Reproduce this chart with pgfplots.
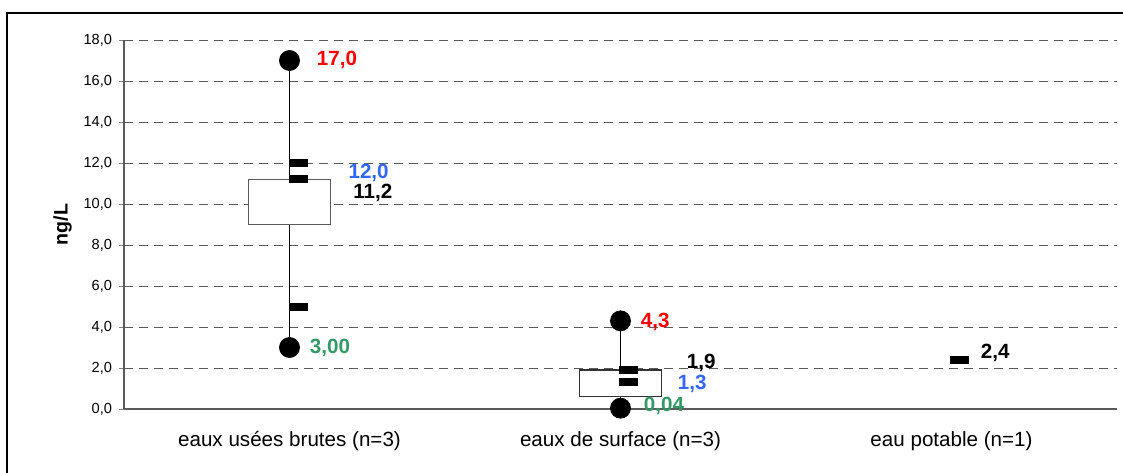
\documentclass[border=0pt]{standalone}
\usepackage{pgfplots}
\pgfplotsset{compat=1.18}
\usepackage{fontspec}
\setmainfont{Liberation Sans}
\definecolor{vred}{RGB}{255,0,0}
\definecolor{vblue}{RGB}{51,102,255}
\definecolor{vgreen}{RGB}{51,153,102}
\definecolor{axgray}{RGB}{90,90,90}
\pgfdeclareplotmark{dash}{\pgfpathrectangle{\pgfpoint{-4.6pt}{-2pt}}{\pgfpoint{9.2pt}{4pt}}\pgfusepathqfill}
\begin{document}
\begin{tikzpicture}
\useasboundingbox (0,0) rectangle (561.5pt,236pt);
\begin{axis}[
  at={(62pt,31.5pt)}, anchor=south west,
  scale only axis, width=496.5pt, height=184.5pt,
  xmin=0, xmax=3, ymin=0, ymax=18,
  axis lines=left, axis line style={-, draw=axgray, line width=0.8pt},
  xtick={0.5,1.5,2.5},
  xticklabels={eaux usées brutes (n=3), eaux de surface (n=3), eau potable (n=1)},
  x tick label style={font=\fontsize{10.3}{12}\selectfont, yshift=-5pt},
  major x tick style={draw=none},
  extra x ticks={1,2,3}, extra x tick labels={},
  extra x tick style={major tick length=3pt, tick align=outside, major tick style={draw=axgray, line width=0.8pt}},
  ytick={0,2,...,18},
  y tick label style={font=\fontsize{7.3}{8}\selectfont},
  yticklabel style={/pgf/number format/.cd, fixed, fixed zerofill, precision=1, use comma, assume math mode=true},
  tick align=outside, major tick length=2.5pt,
  ymajorgrids, grid style={dash pattern=on 4.5pt off 3pt, draw=axgray, line width=0.5pt},
  ylabel={\bfseries ng/L}, ylabel style={font=\fontsize{9.8}{11}\selectfont, yshift=-1pt},
  clip=false,
]
% whiskers
\addplot[black, line width=0.6pt] coordinates {(0.5,3.0) (0.5,17.0)};
\addplot[black, line width=0.6pt] coordinates {(1.5,0.04) (1.5,4.3)};
% boxes
\addplot[draw=axgray, fill=white, line width=0.6pt] coordinates {(0.376,9.0) (0.624,9.0) (0.624,11.2) (0.376,11.2) (0.376,9.0)};
\addplot[draw=black!80, fill=white, line width=0.6pt] coordinates {(1.376,0.6) (1.624,0.6) (1.624,1.9) (1.376,1.9) (1.376,0.6)};
% max / min
\addplot[only marks, mark=*, mark size=5pt, black] coordinates {(0.5,17.0) (0.5,3.0) (1.5,4.3) (1.5,0.04)};
% dashes
\addplot[only marks, mark=dash, black] coordinates {(0.527,12.0) (0.527,11.2) (0.527,5.0) (1.524,1.9) (1.524,1.3) (2.524,2.4)};
% value labels
\begin{scope}[font=\fontsize{10.3}{12}\selectfont\bfseries]
\node[anchor=west, text=vred, inner sep=0pt] at (axis cs:0.5816,17.05) {17,0};
\node[anchor=west, text=vblue, inner sep=0pt] at (axis cs:0.6772,11.5) {12,0};
\node[anchor=west, text=black, inner sep=0pt] at (axis cs:0.6918,10.55) {11,2};
\node[anchor=west, text=vgreen, inner sep=0pt] at (axis cs:0.5604,2.98) {3,00};
\node[anchor=west, text=vred, inner sep=0pt] at (axis cs:1.5604,4.24) {4,3};
\node[anchor=west, text=black, inner sep=0pt] at (axis cs:1.6994,2.24) {1,9};
\node[anchor=west, text=vblue, inner sep=0pt] at (axis cs:1.6722,1.22) {1,3};
\node[anchor=west, text=vgreen, inner sep=0pt] at (axis cs:1.5695,0.15) {0,04};
\node[anchor=west, text=black, inner sep=0pt] at (axis cs:2.5876,2.73) {2,4};
\end{scope}
\end{axis}
\draw[black, line width=1pt] (3.5pt,-5pt) -- (3.5pt,229.5pt) -- (570pt,229.5pt);
\end{tikzpicture}
\end{document}
